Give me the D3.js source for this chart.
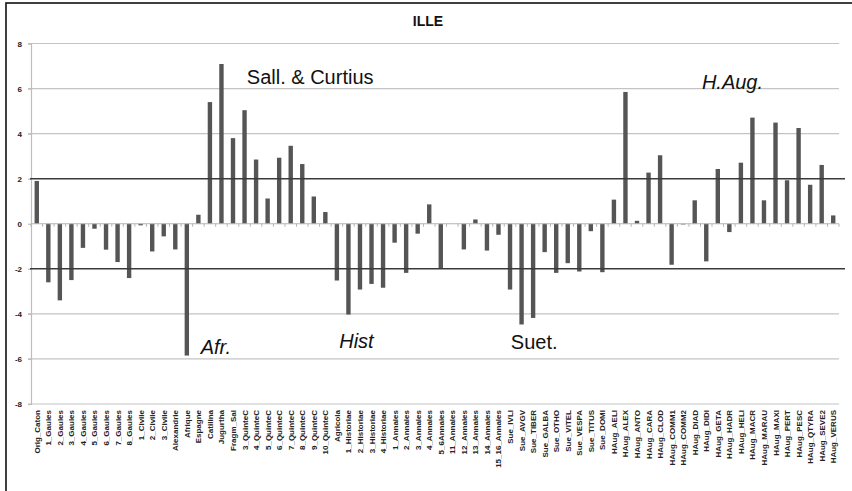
<!DOCTYPE html>
<html>
<head>
<meta charset="utf-8">
<script src="https://cdn.jsdelivr.net/npm/d3@7"></script>
<style>
  html, body { margin: 0; padding: 0; background: #fff; }
  svg { display: block; }
</style>
</head>
<body>
<svg id="chart" width="852" height="491"></svg>
<script>
// Text labels (one per bar)
const categories = [
  "Orig_Caton", "1_Gaules", "2_Gaules", "3_Gaules", "4_Gaules", "5_Gaules", "6_Gaules",
  "7_Gaules", "8_Gaules", "1_Civile", "2_Civile", "3_Civile", "Alexandrie", "Afrique",
  "Espagne", "Catilina", "Jugurtha", "Fragm_Sal", "3_QuinteC", "4_QuinteC", "5_QuinteC",
  "6_QuinteC", "7_QuinteC", "8_QuinteC", "9_QuinteC", "10_QuinteC", "Agricola",
  "1_Historiae", "2_Historiae", "3_Historiae", "4_Historiae", "1_Annales", "2_Annales",
  "3_Annales", "4_Annales", "5_6Annales", "11_Annales", "12_Annales", "13_Annales",
  "14_Annales", "15_16_Annales", "Sue_IVLI", "Sue_AVGV", "Sue_TIBER", "Sue_GALBA",
  "Sue_OTHO", "Sue_VITEL", "Sue_VESPA", "Sue_TITUS", "Sue_DOMI", "HAug_AELI", "HAug_ALEX",
  "HAug_ANTO", "HAug_CARA", "HAug_CLOD", "HAug_COMM1", "HAug_COMM2", "HAug_DIAD",
  "HAug_DIDI", "HAug_GETA", "HAug_HADR", "HAug_HELI", "HAug_MACR", "HAug_MARAU",
  "HAug_MAXI", "HAug_PERT", "HAug_PESC", "HAug_QTYRA", "HAug_SEVE2", "HAug_VERUS"
];

// Specificity score of "ille" in each text
const values = [
  1.9, -2.6, -3.4, -2.5, -1.07, -0.22, -1.15,
  -1.7, -2.41, -0.07, -1.23, -0.56, -1.14, -5.85,
  0.4, 5.4, 7.09, 3.8, 5.04, 2.85, 1.12,
  2.93, 3.46, 2.65, 1.21, 0.52, -2.52,
  -4.03, -2.92, -2.67, -2.84, -0.84, -2.18,
  -0.44, 0.86, -2.0, 0.0, -1.14, 0.19,
  -1.19, -0.49, -2.92, -4.47, -4.18, -1.26,
  -2.18, -1.75, -2.12, -0.33, -2.15, 1.07, 5.85,
  0.13, 2.27, 3.04, -1.82, -0.03, 1.04,
  -1.67, 2.43, -0.37, 2.71, 4.71, 1.04,
  4.49, 1.93, 4.25, 1.73, 2.61, 0.37
];

const yTicks = [-8, -6, -4, -2, 0, 2, 4, 6, 8];
const thresholds = [2, -2];

// Author group annotations
const groupLabels = ["Sall. & Curtius", "Afr.", "Hist", "Suet.", "H.Aug."];
const groupAnchors = ["Fragm_Sal", "Afrique", "1_Historiae", "Sue_IVLI", "HAug_CLOD"];
const groupLevels = [6.2, -5.8, -5.5, -5.55, 6.0];
const groupItalic = [false, true, true, false, true];
const groupOffsets = [16, 16, -7, 3, 44];

const svg = d3.select("#chart");
const W = 852, H = 491;
const mLeft = 31, mRight = 839, mTop = 43.5, mBottom = 404;

const x = d3.scaleBand().domain(categories).range([mLeft, mRight])
  .paddingInner(0.62).paddingOuter(0.31);
const y = d3.scaleLinear().domain([-8, 8]).range([mBottom, mTop]);

// Outer frame
svg.append("rect")
  .attr("x", 6).attr("y", 3).attr("width", W).attr("height", H)
  .attr("fill", "#fff").attr("stroke", "#111").attr("stroke-width", 1.6);

// Title
svg.append("text")
  .attr("x", 428).attr("y", 26)
  .attr("text-anchor", "middle")
  .attr("font-family", "'Liberation Sans Narrow', 'Liberation Sans', Arial, sans-serif")
  .attr("font-weight", "bold").attr("font-size", 14)
  .attr("fill", "#111")
  .text("ILLE");

// Horizontal gridlines
svg.append("g").selectAll("line")
  .data(yTicks.filter(d => d !== 0 && Math.abs(d) !== 2))
  .join("line")
  .attr("x1", mLeft - 3).attr("x2", mRight)
  .attr("y1", d => y(d)).attr("y2", d => y(d))
  .attr("stroke", "#c4c4c4").attr("stroke-width", 1.2);

// Y axis
const yAxis = svg.append("g")
  .attr("transform", `translate(${mLeft},0)`)
  .call(d3.axisLeft(y).tickValues(yTicks).tickSize(3).tickFormat(d => String(d)));
yAxis.select(".domain").attr("stroke", "#bdbdbd").attr("stroke-width", 1.2);
yAxis.selectAll(".tick line").attr("stroke", "#bdbdbd").attr("stroke-width", 1.2);
yAxis.selectAll(".tick text")
  .attr("x", -9)
  .attr("font-family", "'Liberation Sans Narrow', 'Liberation Sans', Arial, sans-serif")
  .attr("font-weight", "bold").attr("font-size", 8).attr("fill", "#222");

// Bars
svg.append("g").selectAll("rect")
  .data(categories.map((c, i) => ({ c, v: values[i] })))
  .join("rect")
  .attr("x", d => x(d.c))
  .attr("width", x.bandwidth())
  .attr("y", d => y(Math.max(0, d.v)))
  .attr("height", d => Math.abs(y(d.v) - y(0)))
  .attr("fill", "#555");

// Zero axis with category ticks
const xAxis = svg.append("g")
  .attr("transform", `translate(0,${y(0)})`);
xAxis.append("line")
  .attr("x1", mLeft).attr("x2", mRight)
  .attr("stroke", "#b5b5b5").attr("stroke-width", 1.2);
xAxis.selectAll("line.tk")
  .data(d3.range(categories.length + 1))
  .join("line").attr("class", "tk")
  .attr("x1", i => mLeft + i * x.step()).attr("x2", i => mLeft + i * x.step())
  .attr("y1", 0).attr("y2", 3)
  .attr("stroke", "#b5b5b5").attr("stroke-width", 1);

// Significance thresholds at +2 / -2
svg.append("g").selectAll("line")
  .data(thresholds)
  .join("line")
  .attr("x1", mLeft - 1).attr("x2", mRight + 6)
  .attr("y1", d => y(d)).attr("y2", d => y(d))
  .attr("stroke", "#3a3a3a").attr("stroke-width", 1.5);

// Category labels along the bottom
svg.append("g").selectAll("text")
  .data(categories)
  .join("text")
  .attr("transform", d => `translate(${x(d) + x.bandwidth() / 2 + 3},${mBottom + 6}) rotate(-90)`)
  .attr("text-anchor", "end")
  .attr("font-family", "'Liberation Sans Narrow', 'Liberation Sans', Arial, sans-serif")
  .attr("font-weight", "bold").attr("font-size", 8).attr("fill", "#222")
  .text(d => d);

// Group annotations
svg.append("g").selectAll("text")
  .data(groupLabels.map((t, i) => ({ t, c: groupAnchors[i], v: groupLevels[i], it: groupItalic[i], dx: groupOffsets[i] })))
  .join("text")
  .attr("x", d => x(d.c) + d.dx)
  .attr("y", d => y(d.v))
  .attr("font-family", "'Liberation Sans', Arial, sans-serif")
  .attr("font-size", 20)
  .attr("font-style", d => d.it ? "italic" : "normal")
  .attr("fill", "#111")
  .text(d => d.t);
</script>
</body>
</html>
